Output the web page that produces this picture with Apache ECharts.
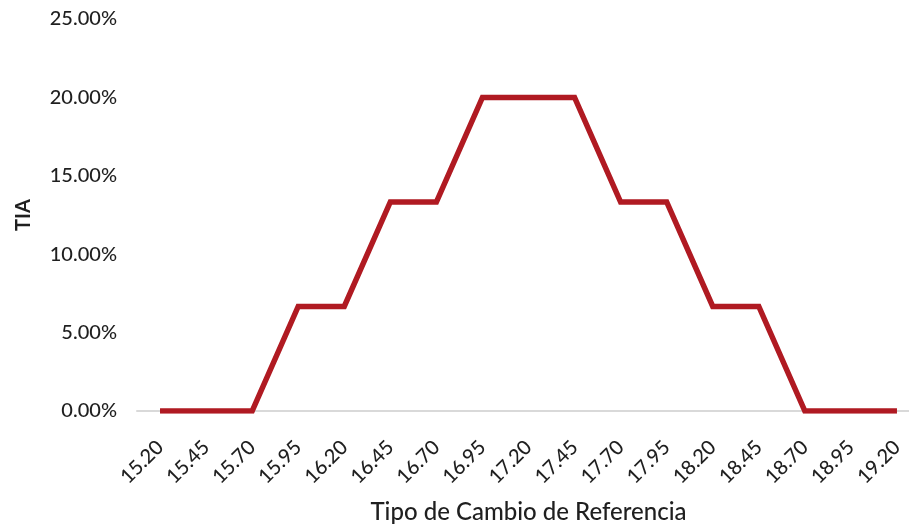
<!DOCTYPE html>
<html><head><meta charset="utf-8">
<script src="https://cdn.jsdelivr.net/npm/echarts@6/dist/echarts.min.js"></script>
<style>html,body{margin:0;padding:0;background:#fff}#c{width:909px;height:529px}</style>
</head><body><div id="c"></div>
<script>
const categories = ["15.20","15.45","15.70","15.95","16.20","16.45","16.70","16.95","17.20","17.45","17.70","17.95","18.20","18.45","18.70","18.95","19.20"];
const tiaValues = [0,0,0,6.67,6.67,13.33,13.33,20,20,20,13.33,13.33,6.67,6.67,0,0,0];
const yTicks = [0,5,10,15,20,25];
const xTitle = "Tipo de Cambio de Referencia";
const yTitle = "TIA";

const font = "Lato, 'Open Sans', sans-serif";
const chart = echarts.init(document.getElementById('c'), null, {renderer:'canvas'});
chart.setOption({
  animation:false,
  backgroundColor:'#fff',
  grid:{left:137, right:-11, top:19, bottom:118, containLabel:false, outerBoundsMode:'none'},
  xAxis:{
    type:'category', data:categories, boundaryGap:true,
    axisLine:{show:true, lineStyle:{color:'#d9d9d9', width:2}},
    axisTick:{show:false},
    axisLabel:{rotate:45, color:'#1f1f1f', fontSize:20, fontWeight:500, fontFamily:font, margin:33, interval:0},
    name:xTitle, nameLocation:'middle', nameGap:89,
    nameTextStyle:{color:'#1f1f1f', fontSize:24, fontWeight:500, fontFamily:font}
  },
  yAxis:{
    type:'value', min:yTicks[0], max:yTicks[yTicks.length-1], interval:5,
    splitLine:{show:false}, axisLine:{show:false}, axisTick:{show:false},
    axisLabel:{color:'#1f1f1f', fontSize:20, fontWeight:500, fontFamily:font, margin:20,
      formatter:v=>v.toFixed(2)+'%'},
    name:yTitle, nameLocation:'middle', nameGap:103, nameRotate:90,
    nameTextStyle:{color:'#1f1f1f', fontSize:20, fontWeight:'bold', fontFamily:font}
  },
  series:[{
    type:'line', data:tiaValues, symbol:'none',
    lineStyle:{color:'#b01a22', width:5.5, join:'miter'},
    itemStyle:{color:'#b01a22'}
  }]
});
</script></body></html>
